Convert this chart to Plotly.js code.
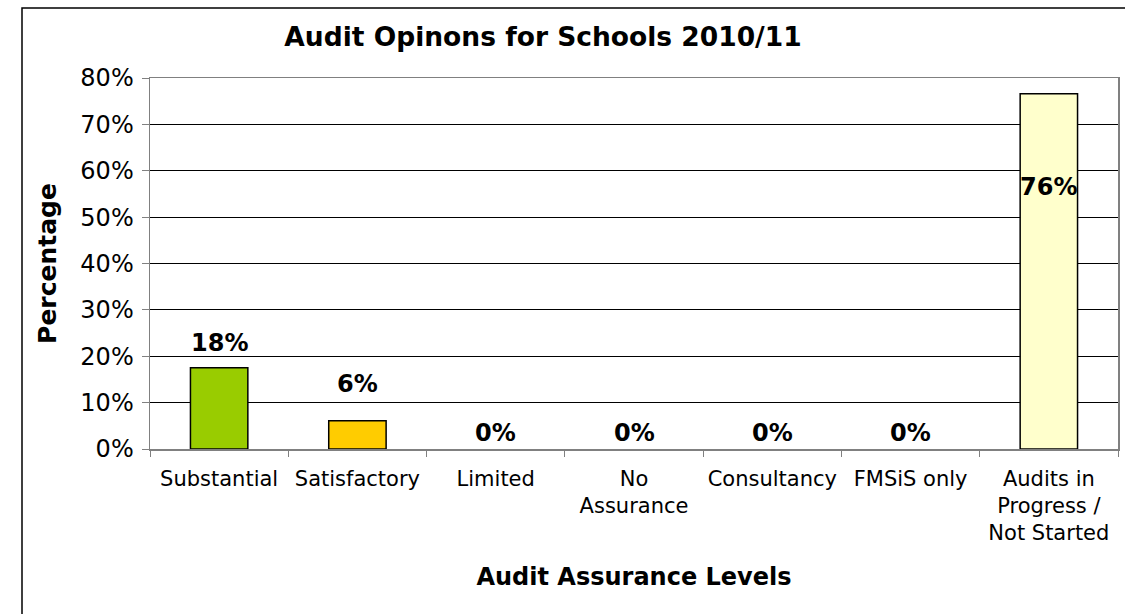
<!DOCTYPE html>
<html>
<head>
<meta charset="utf-8">
<script src="https://cdn.plot.ly/plotly-3.0.1.min.js"></script>
<style>html,body{margin:0;padding:0;background:#fff;}#chart{width:1125px;height:614px;}</style>
</head>
<body>
<div id="chart"></div>
<script>
const categories = ['Substantial', 'Satisfactory', 'Limited', 'No<br>Assurance', 'Consultancy', 'FMSiS only', 'Audits in<br>Progress /<br>Not Started'];
const values = [17.5, 6.1, 0, 0, 0, 0, 76.6];
const labels = ['18%', '6%', '0%', '0%', '0%', '0%', '76%'];
const barColors = ['#99CC00', '#FFCC00', '#FFCC00', '#FFCC00', '#FFCC00', '#FFCC00', '#FFFFCC'];
const yTicks = [0, 10, 20, 30, 40, 50, 60, 70, 80];

// label pixel offsets (style)
const labelShift = [25, 37, 16, 16, 16, 16, -93];

const FONT = 'DejaVu Sans, Verdana, sans-serif';

const trace = {
  type: 'bar',
  x: categories,
  y: values,
  marker: {color: barColors, line: {color: '#000', width: values.map(v => v > 0 ? 1.5 : 0)}},
  hoverinfo: 'none'
};

const annotations = categories.map((c, i) => ({
  x: c, y: values[i], xref: 'x', yref: 'y',
  text: '<b>' + labels[i] + '</b>',
  showarrow: false, yshift: labelShift[i], yanchor: 'middle',
  font: {family: FONT, size: 24, color: '#000'}
}));

const layout = {
  width: 1125, height: 614,
  margin: {l: 150, r: 7, t: 78, b: 165},
  paper_bgcolor: '#fff', plot_bgcolor: '#fff',
  showlegend: false,
  bargap: 0.585,
  title: {
    text: '<b>Audit Opinons for Schools 2010/11</b>',
    font: {family: FONT, size: 26.5, color: '#000'},
    xref: 'paper', x: 0.406, xanchor: 'center',
    yref: 'container', y: 1 - 37 / 614, yanchor: 'middle'
  },
  xaxis: {
    type: 'category',
    tickangle: 0,
    tickfont: {family: FONT, size: 21, color: '#000'},
    ticks: 'outside', tickson: 'boundaries', ticklen: 6, tickcolor: '#808080', tickwidth: 1,
    ticklabelstandoff: 10,
    showline: true, linecolor: '#808080', linewidth: 1.5, mirror: true,
    showgrid: false,
    title: {text: '<b>Audit Assurance Levels</b>', font: {family: FONT, size: 24, color: '#000'}, standoff: 24},
    automargin: false
  },
  yaxis: {
    range: [0, 80],
    tickvals: yTicks,
    ticktext: yTicks.map(v => v + '%'),
    tickfont: {family: FONT, size: 24, color: '#000'},
    ticks: 'outside', ticklen: 7, tickcolor: '#808080', tickwidth: 1,
    ticklabelstandoff: 3,
    showline: true, linecolor: '#808080', linewidth: 1.5, mirror: true,
    showgrid: true, gridcolor: '#000', gridwidth: 1,
    zeroline: false,
    title: {text: '<b>Percentage</b>', font: {family: FONT, size: 25, color: '#000'}, standoff: 16},
    automargin: false
  },
  annotations: annotations,
  shapes: [{
    type: 'rect', xref: 'paper', yref: 'paper',
    x0: (22 - 150) / 968, x1: 1.2, y0: -1, y1: (449 - 8) / 371,
    line: {color: '#000', width: 1.5}, fillcolor: 'rgba(0,0,0,0)', layer: 'below'
  }]
};

Plotly.newPlot('chart', [trace], layout, {staticPlot: true, displayModeBar: false});
</script>
</body>
</html>
